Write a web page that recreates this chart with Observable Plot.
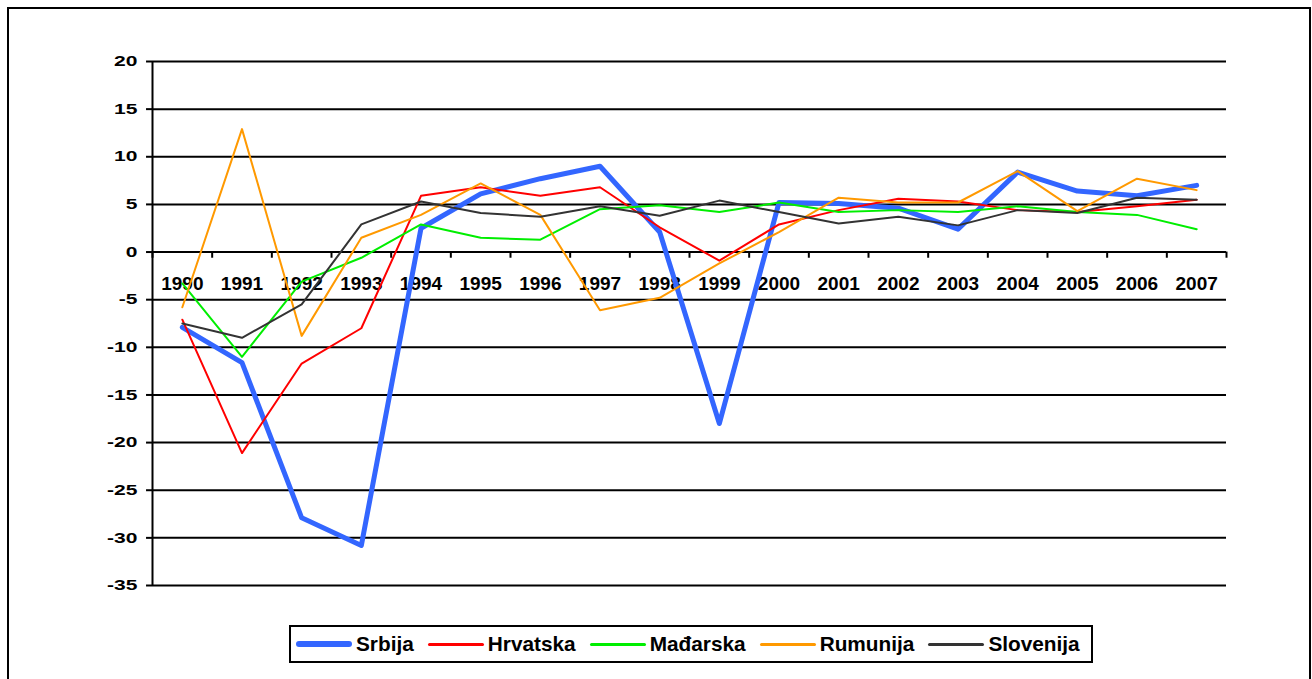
<!DOCTYPE html>
<html>
<head>
<meta charset="utf-8">
<script src="https://cdn.jsdelivr.net/npm/d3@7"></script>
<script src="https://cdn.jsdelivr.net/npm/@observablehq/plot@0.6"></script>
<style>
  html, body { margin: 0; padding: 0; background: #fff; overflow: hidden; }
  body { width: 1312px; height: 679px; position: relative; font-family: "Liberation Sans", Arial, sans-serif; }
  #frame { position: absolute; left: 7px; top: 7px; width: 1300px; height: 700px; border: 2px solid #000; }
  #chart { position: absolute; left: 0; top: 0; }
  #legend { position: absolute; left: 289px; top: 625px; width: 795px; height: 34px; border: 2px solid #000;
    display: flex; align-items: center; padding-left: 5px; box-sizing: content-box; }
  .item { display: flex; align-items: center; margin-right: 14px; }
  .sw { width: 56px; margin-right: 4px; border-radius: 3px; }
  .lbl { font-weight: bold; font-size: 20.8px; color: #000; }
</style>
</head>
<body>
<div id="frame"></div>
<div id="chart"></div>
<div id="legend"></div>
<script>
const years = [1990,1991,1992,1993,1994,1995,1996,1997,1998,1999,2000,2001,2002,2003,2004,2005,2006,2007];
const yearLabels = ["1990","1991","1992","1993","1994","1995","1996","1997","1998","1999","2000","2001","2002","2003","2004","2005","2006","2007"];
const yTicks = [20,15,10,5,0,-5,-10,-15,-20,-25,-30,-35];
const yTickLabels = ["20","15","10","5","0","-5","-10","-15","-20","-25","-30","-35"];

const seriesNames = ["Srbija","Hrvatska","Mađarska","Rumunija","Slovenija"];
const srbija    = [-7.9,-11.6,-27.9,-30.8,2.5,6.1,7.7,9.0,2.1,-18.0,5.2,5.1,4.6,2.4,8.4,6.4,5.9,7.0];
const hrvatska  = [-7.1,-21.1,-11.7,-8.0,5.9,6.8,5.9,6.8,2.6,-0.9,2.9,4.4,5.6,5.3,4.4,4.2,4.8,5.5];
const madjarska = [-3.3,-11.0,-3.1,-0.6,2.9,1.5,1.3,4.5,4.9,4.2,5.2,4.2,4.4,4.2,4.8,4.2,3.9,2.4];
const rumunija  = [-5.8,12.9,-8.8,1.5,3.9,7.2,3.9,-6.1,-4.8,-1.2,2.1,5.7,5.2,5.2,8.5,4.3,7.7,6.5];
const slovenija = [-7.5,-9.0,-5.5,2.9,5.3,4.1,3.7,4.8,3.8,5.4,4.2,3.0,3.7,2.8,4.4,4.1,5.7,5.5];

const seriesValues = [srbija, hrvatska, madjarska, rumunija, slovenija];
const seriesColors = ["#3366FF","#FF0000","#00EE00","#FF9900","#333333"];
const seriesWidths = [5, 2, 2, 2, 2];

const x0 = years[0] - 0.5;
const bounds = years.map(y => y - 0.5).concat([years[years.length - 1] + 0.5]);

const lineMarks = seriesNames.map((name, i) => {
  const rows = years.map((yr, j) => ({year: yr, value: seriesValues[i][j], country: name}));
  return Plot.line(rows, {x: "year", y: "value", stroke: seriesColors[i], strokeWidth: seriesWidths[i],
    strokeLinecap: "round", strokeLinejoin: "round"});
});

const chart = Plot.plot({
  width: 1312,
  height: 600,
  marginTop: 61,
  marginBottom: 15,
  marginLeft: 152,
  marginRight: 86,
  style: {fontFamily: "'Liberation Sans', Arial, sans-serif", background: "transparent", color: "#000"},
  x: {type: "linear", domain: [x0, years[years.length - 1] + 0.5], axis: null},
  y: {type: "linear", domain: [-35, 20], axis: null},
  marks: [
    Plot.ruleY(yTicks, {y: d => d, stroke: "#000", strokeWidth: 2}),
    Plot.ruleY(yTicks, {y: d => d, x1: () => x0 - 0.1, x2: () => x0, stroke: "#000", strokeWidth: 2}),
    Plot.ruleX(bounds, {x: d => d, y1: () => 0, y2: () => -0.65, stroke: "#000", strokeWidth: 2}),
    Plot.ruleX([x0], {x: d => d, y1: () => -35, y2: () => 20, stroke: "#000", strokeWidth: 2}),
    Plot.text(yTicks, {x: () => x0, y: d => d, dx: -15, text: (d, i) => yTickLabels[i], textAnchor: "end", fontSize: 14.5, fontWeight: "bold", fill: "#000"}),
    Plot.text(years, {x: d => d, y: () => 0, dy: 32, text: (d, i) => yearLabels[i], fontSize: 19, fontWeight: "bold", fill: "#000"}),
    ...lineMarks
  ]
});
document.getElementById("chart").appendChild(chart);

// The reference's y tick labels are horizontally stretched; widen them while keeping them as text.
const textGroups = chart.querySelectorAll('g[aria-label="text"]');
if (textGroups.length) {
  textGroups[0].querySelectorAll("text").forEach(t => {
    const w = t.getComputedTextLength();
    t.setAttribute("textLength", (w * 1.45).toFixed(1));
    t.setAttribute("lengthAdjust", "spacingAndGlyphs");
  });
}

const legend = document.getElementById("legend");
seriesNames.forEach((name, i) => {
  const item = document.createElement("div");
  item.className = "item";
  const sw = document.createElement("div");
  sw.className = "sw";
  sw.style.height = seriesWidths[i] + 1 + "px";
  sw.style.background = seriesColors[i];
  const lbl = document.createElement("span");
  lbl.className = "lbl";
  lbl.textContent = name;
  item.appendChild(sw);
  item.appendChild(lbl);
  legend.appendChild(item);
});
</script>
</body>
</html>
